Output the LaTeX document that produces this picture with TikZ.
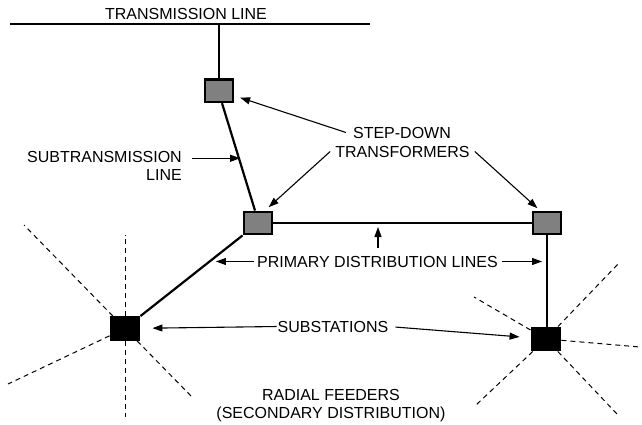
\documentclass[tikz,border=0pt]{standalone}
\usepackage{fontspec}
\setmainfont{Liberation Sans}
\usetikzlibrary{arrows.meta}
\definecolor{xfgray}{RGB}{128,128,128}
\begin{document}
\begin{tikzpicture}[x=1pt,y=-1pt,
  wire/.style={line width=2.2pt},
  xfmr/.style={draw, line width=2.4pt, fill=xfgray, minimum width=28.5pt, minimum height=22.5pt, inner sep=0pt},
  substn/.style={draw, line width=2.4pt, fill=black, minimum width=28.5pt, minimum height=22.5pt, inner sep=0pt},
  lbl/.style={inner sep=0pt, font=\fontsize{16pt}{18pt}\selectfont},
  arr/.style={line width=1.1pt, -{Triangle[length=10pt,width=7pt]}},
  feeder/.style={line width=1pt, dash pattern=on 5pt off 4pt}]
\useasboundingbox (0,0) rectangle (642,424);

% transformers and substations
\node[xfmr] (T1) at (219,90.7) {};
\node[xfmr] (T2) at (258,223) {};
\node[xfmr] (T3) at (547,223) {};
\node[substn] (S1) at (125,328.5) {};
\node[substn] (S2) at (546,339) {};

% transmission line and the lines between the boxes
\coordinate (tlL) at (10,24);
\coordinate (tlR) at (370,24);
\draw[wire] (tlL) -- (tlR);
\draw[wire] (T1.north) -- (T1.north |- tlL);
\draw[wire] ([xshift=3pt]T1.south) -- coordinate[pos=0.504] (stmid) ([xshift=-3pt]T2.north);
\draw[wire] (S1.north east) -- coordinate[pos=0.676] (feedA) (T2.south west);
\draw[wire] (T2.east) -- (T3.west);
\draw[wire] (T3.south) -- (T3.south |- S2.north);

% radial feeders
\coordinate (f1) at (125,235);
\coordinate (f2) at (125,417);
\coordinate (f3) at (24,225);
\coordinate (f4) at (192,397);
\coordinate (f5) at (8,384);
\coordinate (g1) at (474,297);
\coordinate (g2) at (620,262);
\coordinate (g3) at (640,347);
\coordinate (g4) at (476,405);
\coordinate (g5) at (617,414);
\foreach \p in {f1,f2,f3,f4,f5} \draw[feeder] (S1) -- (\p);
\foreach \p in {g1,g2,g3,g4,g5} \draw[feeder] (S2) -- (\p);

% labels
\node[lbl, anchor=base] (tx) at (186,19.5) {TRANSMISSION LINE};
\node[lbl, anchor=base] (step1) at (402,138) {STEP-DOWN};
\node[lbl, anchor=base] (step2) at (402.5,157) {TRANSFORMERS};
\node[lbl, anchor=base east] (sub1) at (182,162) {SUBTRANSMISSION};
\node[lbl, anchor=base east] (sub2) at (182,180) {LINE};
\node[lbl, anchor=base] (prim) at (377.5,267) {PRIMARY DISTRIBUTION LINES};
\node[lbl, anchor=base] (subst) at (333,332) {SUBSTATIONS};
\node[lbl, anchor=base] (rad1) at (331,400.3) {RADIAL FEEDERS};
\node[lbl, anchor=base] (rad2) at (331,418.7) {(SECONDARY DISTRIBUTION)};

% pointer arrows
\draw[arr, shorten >=6pt] ([xshift=-7pt]step1.west) -- (T1);
\draw[arr, shorten >=5pt] ([xshift=-5pt]step2.west) -- ([xshift=7pt]T2.north);
\draw[arr, shorten >=3.5pt] ([xshift=5pt]step2.east) -- ([xshift=-7pt]T3.north);
\draw[arr, shorten >=8.5pt] ([xshift=10pt,yshift=-1.75pt]sub1.east) -- ([xshift=10pt,yshift=-1.75pt]sub1.east -| stmid);
\draw[arr, shorten <=2.5pt, shorten >=6.5pt] (prim.west) -- (prim.west -| feedA);
\draw[arr, shorten <=4pt, shorten >=5pt] (prim.east) -- (prim.east -| T3.south);
\draw[arr, shorten >=4pt] ([xshift=0.5pt,yshift=8pt]prim.north) -- ([xshift=0.5pt]prim.north |- T2.east);
\draw[arr, shorten <=1pt, shorten >=12pt] (subst.west) -- (S1);
\draw[arr, shorten <=7pt, shorten >=11pt] (subst.east) -- (S2);
\end{tikzpicture}
\end{document}
